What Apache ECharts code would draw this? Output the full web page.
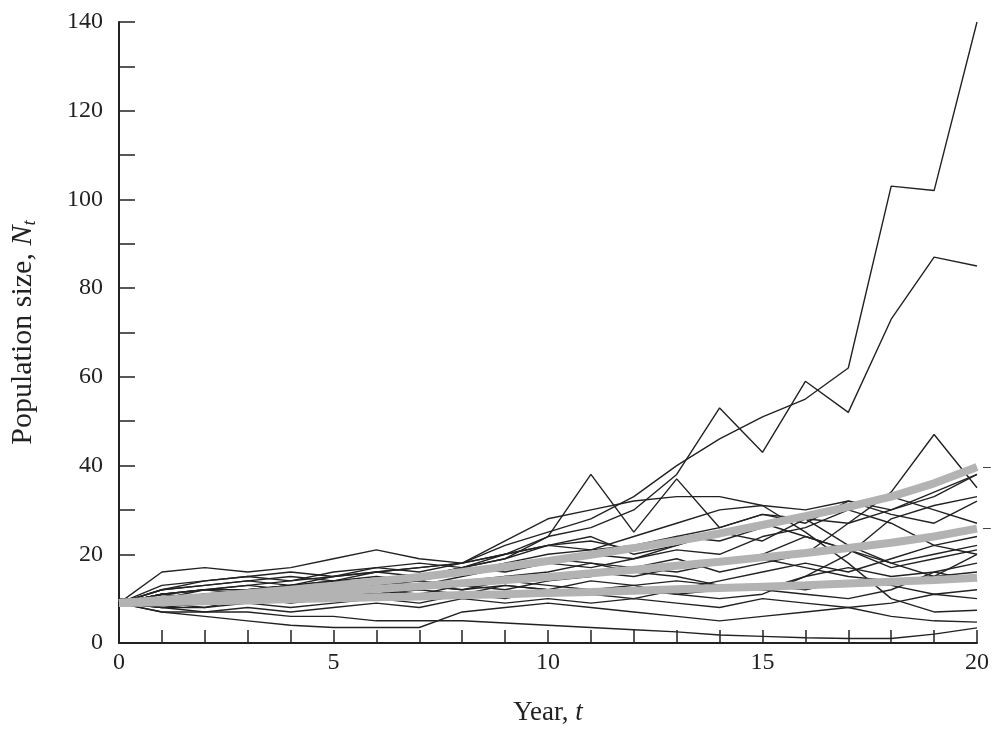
<!DOCTYPE html>
<html>
<head>
<meta charset="utf-8">
<script src="https://cdn.jsdelivr.net/npm/echarts@6/dist/echarts.min.js"></script>
<style>
  html, body { margin: 0; padding: 0; background: #fff; }
  #main { width: 993px; height: 731px; }
</style>
</head>
<body>
<div id="main"></div>
<script>
// years 0..20
var years = [0,1,2,3,4,5,6,7,8,9,10,11,12,13,14,15,16,17,18,19,20];

// simulated runs (thin black lines)
var runs = [
    [9,11,12,13,14,15,16,17,18,22,25,28,33,40,46,51,55,62,103,102,140],
    [9,10,11,12,13,13,14,15,17,20,24,26,30,38,53,43,59,52,73,87,85],
    [9,12,13,14,13,15,16,15,17,19,24,38,25,37,26,29,28,22,18,15,20],
    [9,8,9,10,11,12,13,12,14,15,16,18,17,19,16,18,20,27,34,47,35],
    [9,16,17,16,17,19,21,19,18,23,28,30,32,33,33,31,30,32,30,33,38],
    [9,11,12,12,13,14,14,15,16,18,20,21,22,24,23,26,28,27,30,34,38],
    [9,10,11,10,12,11,12,13,12,13,12,11,12,11,10,11,15,20,28,31,33],
    [9,12,14,15,14,16,17,16,18,20,22,23,21,24,26,29,27,32,29,27,32],
    [9,11,10,12,13,12,14,13,15,17,18,17,19,21,20,24,26,30,27,22,24],
    [9,9,10,11,10,12,13,14,13,15,14,16,15,17,18,20,24,21,18,20,22],
    [9,13,14,15,16,15,17,18,17,19,22,24,20,22,25,27,24,21,17,19,21],
    [9,8,8,9,8,9,10,9,11,10,12,11,10,12,14,16,18,16,19,22,20],
    [9,10,11,10,11,12,11,13,12,14,13,12,13,14,13,12,15,17,15,16,18],
    [9,11,12,13,12,14,15,14,16,17,19,18,16,15,13,12,11,10,12,16,14],
    [9,12,13,14,15,14,16,17,18,20,22,21,24,27,30,31,25,18,10,7,7.4],
    [9,7,7,8,7,8,9,8,10,9,10,9,10,9,8,10,9,8,6,5,4.7],
    [9,7,6,5,4,3.5,3.5,3.5,7,8,9,8,7,6,5,6,7,8,9,11,10],
    [9,8,7,7,6,6,5,5,5,4.5,4,3.5,3,2.5,1.8,1.5,1.2,1,1,2,3.4],
    [9,10,12,11,13,14,13,15,17,16,18,20,19,22,25,23,28,30,33,30,27],
    [9,9,8,10,9,10,11,12,11,13,12,14,13,11,12,13,12,14,13,11,12],
    [9,11,10,11,12,13,12,11,13,12,14,15,17,16,18,19,17,15,14,15,16]
];

// thick gray curves
var grayHigh = [9,9.7,10.4,11.2,12.0,12.9,13.9,14.9,16.0,17.2,18.5,19.9,21.4,23.0,24.7,26.6,28.6,30.7,33.0,36.0,39.7];
var grayMid = [9,9.5,10.0,10.5,11.0,11.6,12.2,12.8,13.5,14.2,14.9,15.7,16.5,17.4,18.3,19.3,20.3,21.4,22.6,24.0,25.8];
var grayLow = [9,9.2,9.4,9.6,9.9,10.1,10.3,10.5,10.8,11.0,11.3,11.5,11.8,12.1,12.4,12.7,13.0,13.4,13.8,14.2,14.7];

var chart = echarts.init(document.getElementById('main'));

function pairs(vals) {
    return vals.map(function (v, i) { return [years[i], v]; });
}

var series = [];
runs.forEach(function (r, k) {
    series.push({
        name: 'run' + k,
        type: 'line',
        data: pairs(r),
        symbol: 'none',
        z: 2,
        lineStyle: { color: '#222', width: 1.4 }
    });
});

[grayHigh, grayMid, grayLow].forEach(function (g, k) {
    series.push({
        name: 'gray' + k,
        type: 'line',
        data: pairs(g),
        symbol: 'none',
        z: 3,
        lineStyle: { color: '#b3b3b3', width: 8 },
        endLabel: {
            show: k < 2,
            formatter: '–',
            color: '#444',
            fontSize: 14,
            distance: 6
        }
    });
});

var serif = '"Liberation Serif", "DejaVu Serif", serif';

var option = {
    animation: false,
    backgroundColor: '#fff',
    grid: { left: 117, right: 16, top: 22, bottom: 88 },
    xAxis: {
        type: 'value',
        min: 0,
        max: 20,
        interval: 5,
        name: '{a|Year, }{i|t}',
        nameLocation: 'middle',
        nameGap: 56,
        nameTextStyle: {
            rich: {
                a: { fontFamily: serif, fontSize: 27, color: '#222' },
                i: { fontFamily: serif, fontSize: 27, fontStyle: 'italic', color: '#222' }
            }
        },
        axisLine: { show: true, lineStyle: { color: '#222', width: 2 } },
        axisTick: { show: true, inside: true, length: 13, lineStyle: { color: '#222', width: 1.5 } },
        minorTick: { show: true, splitNumber: 5, length: 13, lineStyle: { color: '#222', width: 1.5 } },
        axisLabel: { fontFamily: serif, fontSize: 24, color: '#222', margin: 8 },
        splitLine: { show: false }
    },
    yAxis: {
        type: 'value',
        min: 0,
        max: 140,
        interval: 20,
        name: '{a|Population size, }{i|N}{s|t}',
        nameLocation: 'middle',
        nameGap: 80,
        nameTextStyle: {
            rich: {
                a: { fontFamily: serif, fontSize: 30, color: '#222' },
                i: { fontFamily: serif, fontSize: 30, fontStyle: 'italic', color: '#222' },
                s: { fontFamily: serif, fontSize: 19, fontStyle: 'italic', color: '#222', verticalAlign: 'bottom', padding: [13, 0, 0, 0] }
            }
        },
        axisLine: { show: true, lineStyle: { color: '#222', width: 2 } },
        axisTick: { show: true, inside: true, length: 16, lineStyle: { color: '#222', width: 1.5 } },
        minorTick: { show: true, splitNumber: 2, length: 16, lineStyle: { color: '#222', width: 1.5 } },
        axisLabel: { fontFamily: serif, fontSize: 24, color: '#222', margin: 16 },
        splitLine: { show: false }
    },
    series: series
};

chart.setOption(option);
</script>
</body>
</html>
